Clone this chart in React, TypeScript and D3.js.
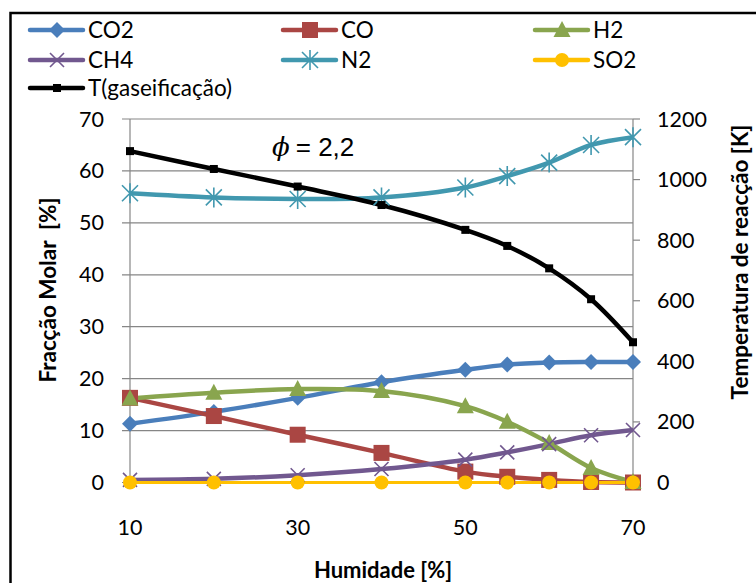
import React from "react";
import * as d3 from "d3";

const humidity = [10, 20, 30, 40, 50, 55, 60, 65, 70];
const co2 = [11.3, 13.6, 16.3, 19.3, 21.7, 22.7, 23.1, 23.2, 23.2];
const co = [16.3, 12.8, 9.2, 5.7, 2.1, 1.1, 0.5, 0.1, 0.0];
const h2 = [16.2, 17.3, 18.0, 17.6, 14.7, 11.7, 7.6, 2.8, 0.1];
const ch4 = [0.5, 0.7, 1.4, 2.6, 4.4, 5.8, 7.4, 9.1, 10.1];
const n2 = [55.7, 54.9, 54.6, 54.9, 56.8, 59.0, 61.6, 65.0, 66.5];
const so2 = [0, 0, 0, 0, 0, 0, 0, 0, 0];
const tGas = [1094, 1035, 977, 916, 834, 781, 707, 605, 463];

const xTicks = [10, 30, 50, 70];
const yLeftTicks = [0, 10, 20, 30, 40, 50, 60, 70];
const yRightTicks = [0, 200, 400, 600, 800, 1000, 1200];

type Marker = "diamond" | "square" | "triangle" | "x" | "star" | "circle" | "smallsquare";

const series: { name: string; values: number[]; color: string; marker: Marker }[] = [
  { name: "CO2", values: co2, color: "#4A7EBB", marker: "diamond" },
  { name: "CO", values: co, color: "#AA4643", marker: "square" },
  { name: "H2", values: h2, color: "#89A54E", marker: "triangle" },
  { name: "CH4", values: ch4, color: "#71588F", marker: "x" },
  { name: "N2", values: n2, color: "#4198AF", marker: "star" },
  { name: "SO2", values: so2, color: "#FFC000", marker: "circle" },
];

const FONT = "Lato, 'Open Sans', sans-serif";

function MarkerShape({ type, x, y, color }: { type: Marker; x: number; y: number; color: string }) {
  switch (type) {
    case "diamond":
      return <path d={`M${x},${y - 8} L${x + 8},${y} L${x},${y + 8} L${x - 8},${y} Z`} fill={color} />;
    case "square":
      return <rect x={x - 8} y={y - 8} width={16} height={16} fill={color} />;
    case "triangle":
      return <path d={`M${x},${y - 9} L${x + 8.5},${y + 7} L${x - 8.5},${y + 7} Z`} fill={color} />;
    case "x":
      return (
        <path d={`M${x - 7},${y - 7} L${x + 7},${y + 7} M${x - 7},${y + 7} L${x + 7},${y - 7}`} stroke={color} strokeWidth={1.6} fill="none" />
      );
    case "star":
      return (
        <path
          d={`M${x - 8},${y - 8} L${x + 8},${y + 8} M${x - 8},${y + 8} L${x + 8},${y - 8} M${x},${y - 10} L${x},${y + 10}`}
          stroke={color}
          strokeWidth={1.6}
          fill="none"
        />
      );
    case "circle":
      return <circle cx={x} cy={y} r={7} fill={color} />;
    case "smallsquare":
      return <rect x={x - 4} y={y - 4} width={8} height={8} fill={color} />;
  }
  return null;
}

export default function App() {
  const W = 756;
  const H = 583;
  const left = 130;
  const right = 633;
  const top = 119;
  const bottom = 482.5;

  const x = d3.scaleLinear().domain([10, 70]).range([left, right]);
  const yL = d3.scaleLinear().domain([0, 70]).range([bottom, top]);
  const yR = d3.scaleLinear().domain([0, 1200]).range([bottom, top]);

  const curve = d3.curveCatmullRom.alpha(0.5);
  const lineL = d3
    .line<number>()
    .x((_, i) => x(humidity[i]))
    .y((d) => yL(d))
    .curve(curve);
  const lineR = d3
    .line<number>()
    .x((_, i) => x(humidity[i]))
    .y((d) => yR(d))
    .curve(curve);

  const legendItems = [
    { ...series[0], lx: 30, ly: 30 },
    { ...series[1], lx: 283, ly: 30 },
    { ...series[2], lx: 535, ly: 30 },
    { ...series[3], lx: 30, ly: 60 },
    { ...series[4], lx: 283, ly: 60 },
    { ...series[5], lx: 535, ly: 60 },
    { name: "T(gaseificação)", values: tGas, color: "#000000", marker: "smallsquare" as Marker, lx: 30, ly: 88 },
  ];

  return (
    <svg width={W} height={H} style={{ position: "absolute", left: 0, top: 0, background: "#fff" }}>
      <rect x={0} y={0} width={W} height={H} fill="#fff" />
      {/* outer border */}
      <rect x={10.5} y={13} width={W + 20} height={H + 20} fill="none" stroke="#000" strokeWidth={2.5} />

      {/* gridlines */}
      {yLeftTicks.map((t) => (
        <line key={"g" + t} x1={left - 8} x2={right} y1={yL(t)} y2={yL(t)} stroke="#868686" strokeWidth={1.2} />
      ))}
      {/* axes */}
      <line x1={left} x2={left} y1={top} y2={bottom} stroke="#868686" strokeWidth={1.2} />
      <line x1={right} x2={right} y1={top} y2={bottom} stroke="#868686" strokeWidth={1.2} />
      {yRightTicks.map((t) => (
        <line key={"rt" + t} x1={right} x2={right + 7} y1={yR(t)} y2={yR(t)} stroke="#868686" strokeWidth={1.2} />
      ))}

      {/* left tick labels */}
      {yLeftTicks.map((t) => (
        <text key={"yl" + t} x={104} y={yL(t)} dy="0.35em" textAnchor="end" fontFamily={FONT} fontSize={21.5} fill="#000">
          {t}
        </text>
      ))}
      {yRightTicks.map((t) => (
        <text key={"yr" + t} x={657} y={yR(t)} dy="0.35em" textAnchor="start" fontFamily={FONT} fontSize={21.5} fill="#000">
          {t}
        </text>
      ))}
      {xTicks.map((t) => (
        <text key={"x" + t} x={x(t)} y={527} dy="0.35em" textAnchor="middle" fontFamily={FONT} fontSize={21.5} fill="#000">
          {t}
        </text>
      ))}

      {/* axis titles */}
      <text x={383} y={570} dy="0.35em" textAnchor="middle" fontFamily={FONT} fontWeight="bold" fontSize={22} fill="#000">
        Humidade [%]
      </text>
      <text
        transform={`translate(48,290) rotate(-90)`}
        dy="0.35em"
        textAnchor="middle"
        fontFamily={FONT}
        fontWeight="bold"
        fontSize={22.5}
        fill="#000"
        style={{ whiteSpace: "pre" }}
      >
        {"Fracção Molar  [%]"}
      </text>
      <text
        transform={`translate(740,262) rotate(-90)`}
        dy="0.35em"
        textAnchor="middle"
        fontFamily={FONT}
        fontWeight="bold"
        fontSize={22.5}
        fill="#000"
      >
        Temperatura de reacção [K]
      </text>

      {/* annotation */}
      <text x={272} y={147} dy="0.35em" fontSize={26} fill="#000">
        <tspan fontFamily="'DejaVu Serif', 'Liberation Serif', serif" fontStyle="italic">ϕ</tspan>
        <tspan fontFamily="'Liberation Sans', Arial, sans-serif" dx={6}>= 2,2</tspan>
      </text>

      {/* series lines */}
      {series.map((s) => (
        <path key={"l" + s.name} d={lineL(s.values) || ""} fill="none" stroke={s.color} strokeWidth={s.name === "SO2" ? 3 : 4.5} strokeLinejoin="round" />
      ))}
      <path d={lineR(tGas) || ""} fill="none" stroke="#000" strokeWidth={4.5} strokeLinejoin="round" />

      {/* markers */}
      {series.map((s) =>
        s.values.map((v, i) => (
          <MarkerShape key={s.name + i} type={s.marker} x={x(humidity[i])} y={yL(v)} color={s.color} />
        ))
      )}
      {tGas.map((v, i) => (
        <MarkerShape key={"t" + i} type="smallsquare" x={x(humidity[i])} y={yR(v)} color="#000" />
      ))}

      {/* legend */}
      {legendItems.map((it) => (
        <g key={"lg" + it.name}>
          <line x1={it.lx} x2={it.lx + 53} y1={it.ly} y2={it.ly} stroke={it.color} strokeWidth={4.5} strokeLinecap="round" />
          <MarkerShape type={it.marker} x={it.lx + 27} y={it.ly} color={it.color} />
          <text x={it.lx + 58} y={it.ly} dy="0.35em" fontFamily={FONT} fontSize={22.5} fill="#000">
            {it.name}
          </text>
        </g>
      ))}
    </svg>
  );
}
